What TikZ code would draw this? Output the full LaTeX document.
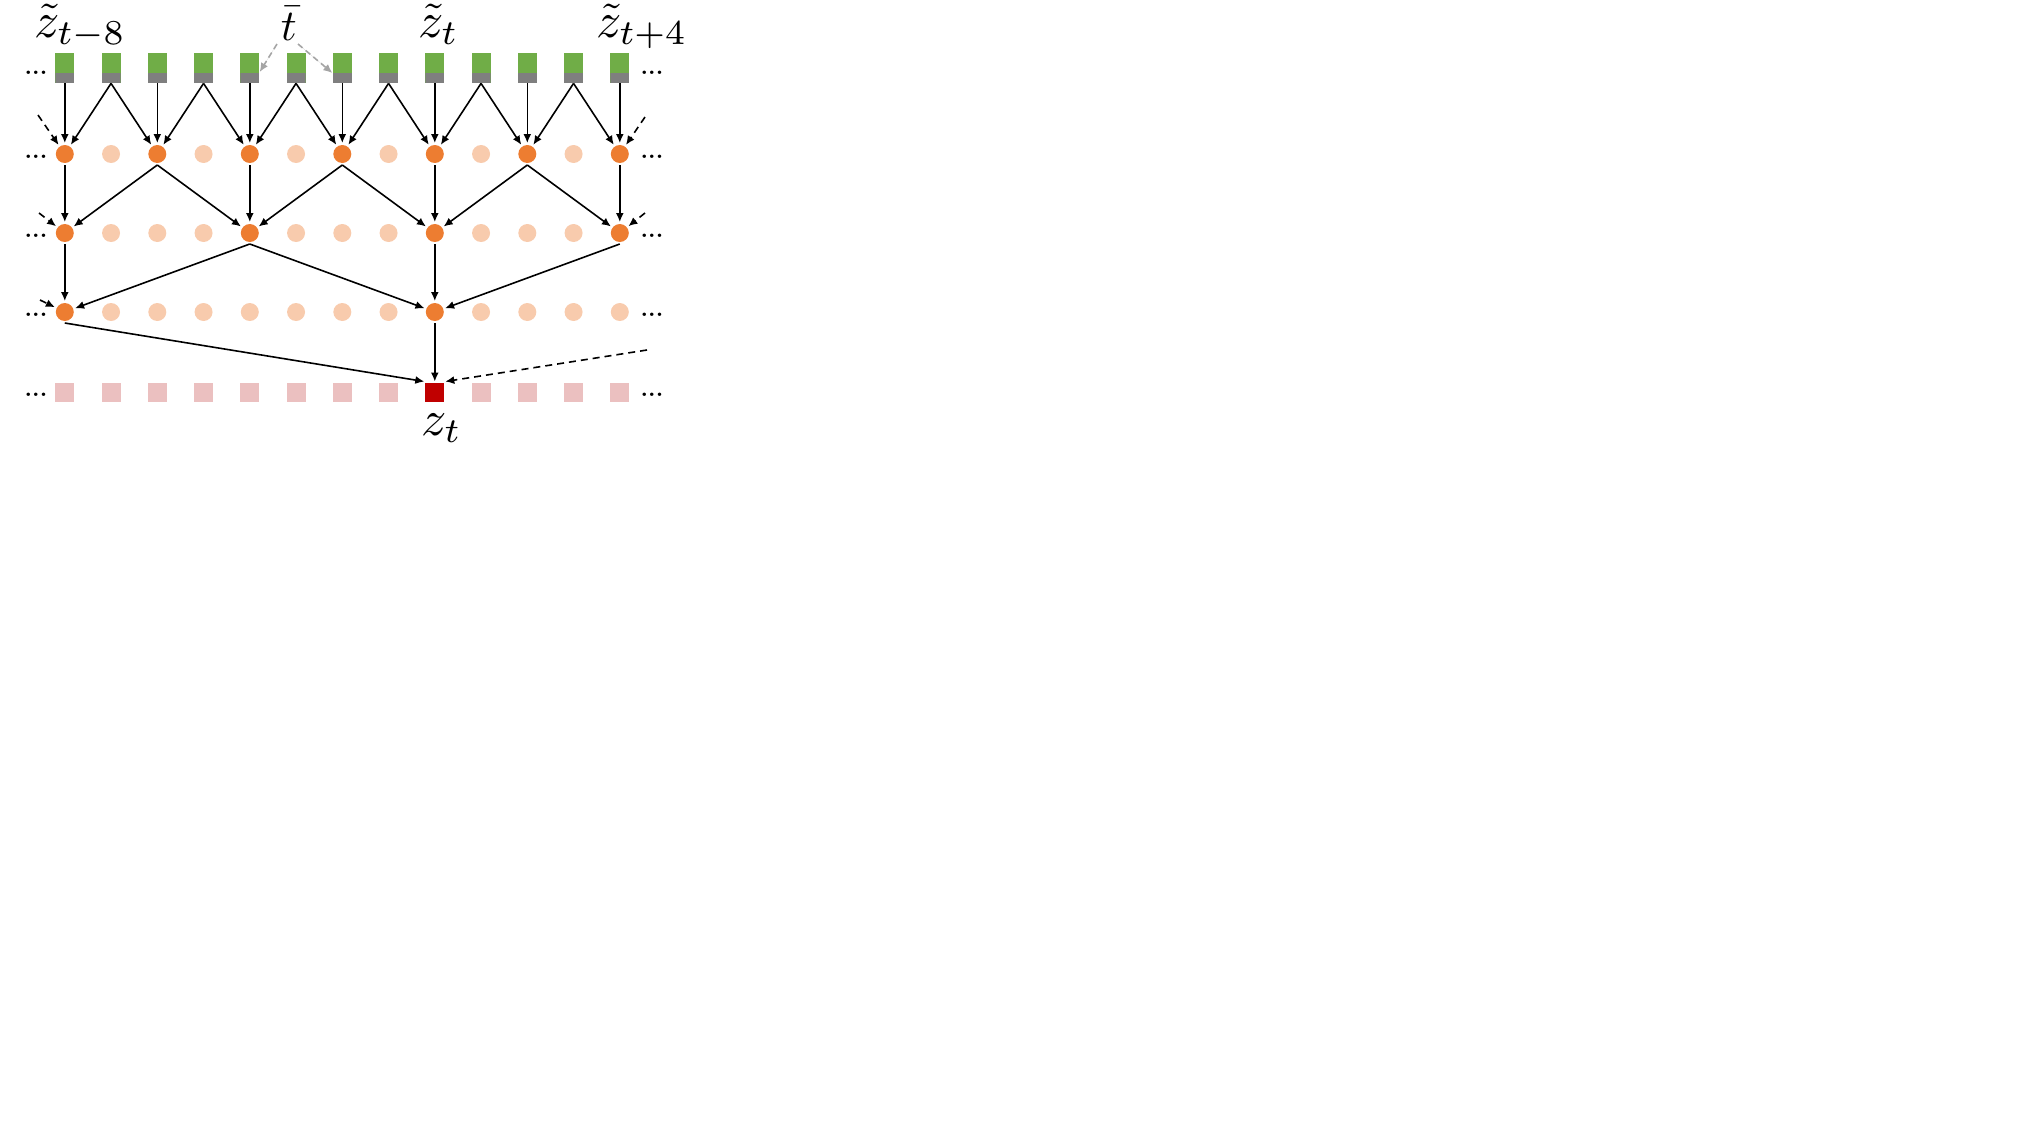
\documentclass[tikz,border=0pt]{standalone}
\usepackage{fontspec}
\usetikzlibrary{arrows.meta,calc}
\definecolor{cgreen}{HTML}{70AD47}
\definecolor{cgray}{HTML}{7F7F7F}
\definecolor{cgrayl}{HTML}{A5A5A5}
\definecolor{corange}{HTML}{ED7D31}
\definecolor{clight}{HTML}{F8CBAD}
\definecolor{cpink}{HTML}{EBC0C0}
\definecolor{cred}{HTML}{C00000}
\begin{document}
\begin{tikzpicture}[x=0.5pt,y=-0.5pt,
  gsq/.style={fill=cgreen, minimum width=9.5pt, minimum height=15pt, inner sep=0pt,
    path picture={\fill[cgray] (path picture bounding box.south west) rectangle ([yshift=5pt]path picture bounding box.south east);}},
  onode/.style={circle, fill=corange, minimum size=9pt, inner sep=0pt, outer sep=1pt},
  lnode/.style={circle, fill=clight, minimum size=9pt, inner sep=0pt},
  psq/.style={fill=cpink, minimum size=9.5pt, inner sep=0pt},
  rsq/.style={fill=cred, minimum size=9.5pt, inner sep=0pt, outer sep=0.5pt},
  arr/.style={-{Latex[length=4.5pt,width=4pt]}, line width=0.8pt},
  darr/.style={arr, dash pattern=on 3.5pt off 2.5pt},
  garr/.style={-{Latex[length=4.5pt,width=4pt]}, line width=0.8pt, draw=cgrayl, fill=cgrayl, dash pattern=on 3pt off 2pt},
  dots/.style={font=\fontsize{12}{14}\selectfont\bfseries, inner sep=0pt},
  lab/.style={scale=2.5, inner sep=0pt, anchor=base west}]
\useasboundingbox (0,0) rectangle (2031,1142);

% top row (green/gray)
\foreach \i in {0,...,12} \node[gsq] (g\i) at ({64.8+46.25*\i},68) {};
% row 1
\foreach \i in {1,3,...,11} \node[lnode] (a\i) at ({64.8+46.25*\i},154) {};
\foreach \i in {0,2,...,12} \node[onode] (a\i) at ({64.8+46.25*\i},154) {};
% row 2
\foreach \i in {1,2,3,5,6,7,9,10,11} \node[lnode] (b\i) at ({64.8+46.25*\i},233) {};
\foreach \i in {0,4,8,12} \node[onode] (b\i) at ({64.8+46.25*\i},233) {};
% row 3
\foreach \i in {1,2,3,4,5,6,7,9,10,11,12} \node[lnode] (c\i) at ({64.8+46.25*\i},312) {};
\foreach \i in {0,8} \node[onode] (c\i) at ({64.8+46.25*\i},312) {};
% row 4
\foreach \i in {0,1,2,3,4,5,6,7,9,10,11,12} \node[psq] (d\i) at ({64.8+46.25*\i},392) {};
\node[rsq] (d8) at ({64.8+46.25*8},392) {};

% dots
\foreach \y [count=\k] in {73,157,236,315,395} {
  \node[dots] (ldots\k) at (36,\y) {...};
  \node[dots] (rdots\k) at (652,\y) {...};
}

% labels
\node[lab] (l1) at (33,37) {$\tilde{z}_{t-8}$};
\node[lab] (l2) at (417,37) {$\tilde{z}_{t}$};
\node[lab] (l3) at (595,37) {$\tilde{z}_{t+4}$};
\node[lab, scale=0.88] (tb) at (280,40) {$\bar{t}$};
\node[lab] (zt) at (420,435) {$z_t$};

% row0 -> row1
\foreach \i in {0,2,...,12} \draw[arr] (g\i.south) -- (a\i);
\foreach \i [evaluate=\i as \l using int(\i-1), evaluate=\i as \r using int(\i+1)] in {1,3,...,11} {
  \draw[arr] (g\i.south) -- (a\l);
  \draw[arr] (g\i.south) -- (a\r);
}
% row1 -> row2
\foreach \i in {0,4,8,12} \draw[arr] (a\i.south) -- (b\i);
\foreach \i [evaluate=\i as \l using int(\i-2), evaluate=\i as \r using int(\i+2)] in {2,6,10} {
  \draw[arr] (a\i.south) -- (b\l);
  \draw[arr] (a\i.south) -- (b\r);
}
% row2 -> row3
\draw[arr] (b0.south) -- (c0);
\draw[arr] (b4.south) -- (c0);
\draw[arr] (b4.south) -- (c8);
\draw[arr] (b8.south) -- (c8);
\draw[arr] (b12.south) -- (c8);
% row3 -> row4
\draw[arr] (c0.south) -- (d8.north west);
\draw[arr] (c8.south) -- (d8.north);

% dashed inputs
\coordinate (s1) at (38,115);
\coordinate (s2) at (645,117);
\coordinate (s3) at (39,213);
\coordinate (s4) at (645,213);
\coordinate (s5) at (40,300);
\coordinate (s6) at (647,350);
\draw[darr] (s1) -- (a0);
\draw[darr] (s2) -- (a12);
\draw[darr] (s3) -- (b0);
\draw[darr] (s4) -- (b12);
\draw[darr] (s5) -- (c0);
\draw[darr] (s6) -- (d8.north east);

% gray arrows from t-bar
\coordinate (tl) at (277,44);
\coordinate (tr) at (298,44);
\draw[garr] (tl) -- ([yshift=-2pt]g4.east);
\draw[garr] (tr) -- ([yshift=-2.5pt]g6.west);
\end{tikzpicture}
\end{document}
